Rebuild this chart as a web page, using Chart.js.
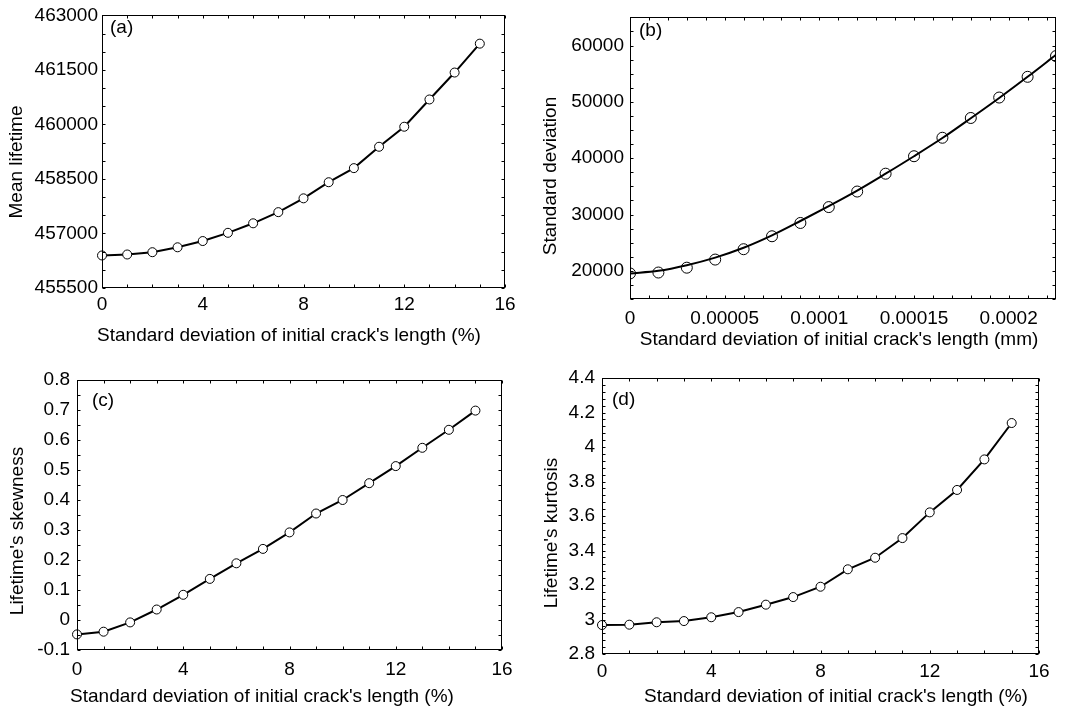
<!DOCTYPE html>
<html>
<head>
<meta charset="utf-8">
<script src="https://cdn.jsdelivr.net/npm/chart.js@4/dist/chart.umd.min.js"></script>
<style>
  body { margin: 0; background: #fff; }
  #wrap { position: relative; width: 1068px; height: 714px; }
  .panel { position: absolute; width: 534px; height: 357px; }
</style>
</head>
<body>
<div id="wrap">
  <div class="panel" style="left:0;top:0"><canvas id="chart-a"></canvas></div>
  <div class="panel" style="left:534px;top:0"><canvas id="chart-b"></canvas></div>
  <div class="panel" style="left:0;top:357px"><canvas id="chart-c"></canvas></div>
  <div class="panel" style="left:534px;top:357px"><canvas id="chart-d"></canvas></div>
</div>
<script>
// x values: std dev of initial crack length, in % and in mm
const pctX = [0, 1, 2, 3, 4, 5, 6, 7, 8, 9, 10, 11, 12, 13, 14, 15];
const mmX = [0, 0.000015, 0.00003, 0.000045, 0.00006, 0.000075, 0.00009, 0.000105,
             0.00012, 0.000135, 0.00015, 0.000165, 0.00018, 0.000195, 0.00021, 0.000225];

// (a) mean lifetime
const meanLifetime = [456395, 456422, 456485, 456620, 456792, 457018, 457280, 457587,
                      457967, 458410, 458798, 459386, 459937, 460687, 461428, 462223];
// (b) standard deviation: simulated points and fitted curve
const stdPoints = [19540, 19700, 20560, 22000, 23840, 26140, 28500, 31320,
                   34080, 37250, 40350, 43630, 47140, 50770, 54450, 58130];
const stdFit = [19540, 20000, 21000, 22350, 24100, 26300, 28850, 31500,
                34250, 37250, 40350, 43580, 47100, 50700, 54450, 58360];
// (c) skewness
const skewness = [-0.048, -0.039, -0.008, 0.035, 0.084, 0.137, 0.189, 0.237,
                  0.292, 0.355, 0.400, 0.456, 0.513, 0.574, 0.634, 0.698];
// (d) kurtosis
const kurtosis = [2.968, 2.970, 2.984, 2.991, 3.013, 3.043, 3.086, 3.130,
                  3.190, 3.291, 3.358, 3.472, 3.621, 3.751, 3.928, 4.139];

// tick labels
const pctTicks = [0, 4, 8, 12, 16];
const meanTicks = [455500, 457000, 458500, 460000, 461500, 463000];
const mmTicks = [0, 0.00005, 0.0001, 0.00015, 0.0002];
const stdTicks = [20000, 30000, 40000, 50000, 60000];
const skewTicks = [-0.1, 0, 0.1, 0.2, 0.3, 0.4, 0.5, 0.6, 0.7, 0.8];
const kurtTicks = [2.8, 3, 3.2, 3.4, 3.6, 3.8, 4, 4.2, 4.4];

const FONT = '"Liberation Sans", Arial, sans-serif';
Chart.defaults.font.family = FONT;
Chart.defaults.font.size = 19;
Chart.defaults.color = '#000';

const fmt = v => parseFloat(Number(v).toPrecision(8)).toString();

// frame, inward ticks on all four sides, panel letter and axis titles
const framePlugin = {
  id: 'frame',
  afterDraw(chart, args, o) {
    const { ctx, chartArea: a, scales: { x, y } } = chart;
    ctx.save();
    ctx.strokeStyle = '#000';
    ctx.lineWidth = 1;
    const L = Math.round(a.left) + 0.5, R = Math.round(a.right) - 0.5;
    const T = Math.round(a.top) + 0.5, B = Math.round(a.bottom) - 0.5;
    ctx.strokeRect(L, T, R - L, B - T);
    ctx.beginPath();
    const nx = Math.round((x.max - x.min) / o.xMinor);
    for (let i = 0; i <= nx; i++) {
      const px = Math.round(x.getPixelForValue(x.min + i * o.xMinor)) + 0.5;
      ctx.moveTo(px, B); ctx.lineTo(px, B - 3);
      ctx.moveTo(px, T); ctx.lineTo(px, T + 3);
    }
    const ny = Math.round((y.max - y.min) / o.yMinor);
    for (let i = 0; i <= ny; i++) {
      const py = Math.round(y.getPixelForValue(y.min + i * o.yMinor)) + 0.5;
      ctx.moveTo(L, py); ctx.lineTo(L + 3, py);
      ctx.moveTo(R, py); ctx.lineTo(R - 3, py);
    }
    ctx.stroke();
    ctx.fillStyle = '#000';
    ctx.font = '19px ' + FONT;
    ctx.textBaseline = 'middle';
    ctx.textAlign = 'left';
    ctx.fillText(o.letter, o.letterX, o.letterY);
    ctx.textAlign = 'center';
    ctx.fillText(o.xTitle, o.xTitleX, o.xTitleY);
    ctx.translate(o.yTitleX, o.yTitleY);
    ctx.rotate(-Math.PI / 2);
    ctx.fillText(o.yTitle, 0, 0);
    ctx.restore();
  }
};

function linScale(min, max, tickVals, pad, size, isX) {
  return {
    type: 'linear', min: min, max: max,
    grid: { display: false, drawTicks: false },
    border: { display: false },
    afterBuildTicks: s => { s.ticks = tickVals.map(v => ({ value: v })); },
    afterFit: s => { if (isX) s.height = size; else s.width = size; },
    ticks: { padding: pad, callback: v => fmt(v), autoSkip: false, maxRotation: 0 }
  };
}

function makeChart(id, datasets, scales, padding, frameOpts) {
  return new Chart(document.getElementById(id), {
    type: 'line',
    data: { datasets: datasets },
    options: {
      responsive: true, maintainAspectRatio: false, animation: false,
      layout: { padding: padding },
      plugins: { legend: { display: false }, tooltip: { enabled: false }, frame: frameOpts },
      scales: scales
    },
    plugins: [framePlugin]
  });
}

function pctSeries(vals) {
  return {
    data: pctX.map((x, i) => ({ x: x, y: vals[i] })),
    borderColor: '#000', borderWidth: 2, tension: 0,
    pointRadius: 4.5, pointBackgroundColor: '#fff', pointBorderColor: '#000', pointBorderWidth: 1,
    clip: false
  };
}

makeChart('chart-a', [pctSeries(meanLifetime)], {
  x: linScale(0, 16, pctTicks, 5, 69, true),
  y: linScale(455500, 463000, meanTicks, 4, 102, false)
}, { top: 12, right: 29, left: 0, bottom: 0 }, {
  xMinor: 1, yMinor: 500, letter: '(a)', letterX: 110, letterY: 28,
  xTitle: "Standard deviation of initial crack's length (%)", xTitleX: 289, xTitleY: 336,
  yTitle: 'Mean lifetime', yTitleX: 17, yTitleY: 162
});

makeChart('chart-b', [
  {
    data: mmX.map((x, i) => ({ x: x, y: stdFit[i] })),
    borderColor: '#000', borderWidth: 2, cubicInterpolationMode: 'monotone', pointRadius: 0
  },
  {
    data: mmX.map((x, i) => ({ x: x, y: stdPoints[i] })),
    showLine: false, pointRadius: 5.5, pointBackgroundColor: 'rgba(0,0,0,0)',
    pointBorderColor: '#000', pointBorderWidth: 1
  }
], {
  x: linScale(0, 0.000225, mmTicks, 8, 58, true),
  y: linScale(15000, 65000, stdTicks, 6, 96, false)
}, { top: 10, right: 12, left: 0, bottom: 0 }, {
  xMinor: 0.00001, yMinor: 2500, letter: '(b)', letterX: 105, letterY: 31,
  xTitle: "Standard deviation of initial crack's length (mm)", xTitleX: 305, xTitleY: 340,
  yTitle: 'Standard deviation', yTitleX: 17, yTitleY: 176
});

makeChart('chart-c', [pctSeries(skewness)], {
  x: linScale(0, 16, pctTicks, 8, 64, true),
  y: linScale(-0.1, 0.8, skewTicks, 7, 77, false)
}, { top: 23, right: 32, left: 0, bottom: 0 }, {
  xMinor: 1, yMinor: 0.05, letter: '(c)', letterX: 92, letterY: 44,
  xTitle: "Standard deviation of initial crack's length (%)", xTitleX: 262, xTitleY: 340,
  yTitle: "Lifetime's skewness", yTitleX: 18, yTitleY: 174
});

makeChart('chart-d', [pctSeries(kurtosis)], {
  x: linScale(0, 16, pctTicks, 6, 60, true),
  y: linScale(2.8, 4.4, kurtTicks, 7, 68, false)
}, { top: 21, right: 29, left: 0, bottom: 0 }, {
  xMinor: 1, yMinor: 0.04, letter: '(d)', letterX: 78, letterY: 43,
  xTitle: "Standard deviation of initial crack's length (%)", xTitleX: 302, xTitleY: 340,
  yTitle: "Lifetime's kurtosis", yTitleX: 18, yTitleY: 176
});
</script>
</body>
</html>
